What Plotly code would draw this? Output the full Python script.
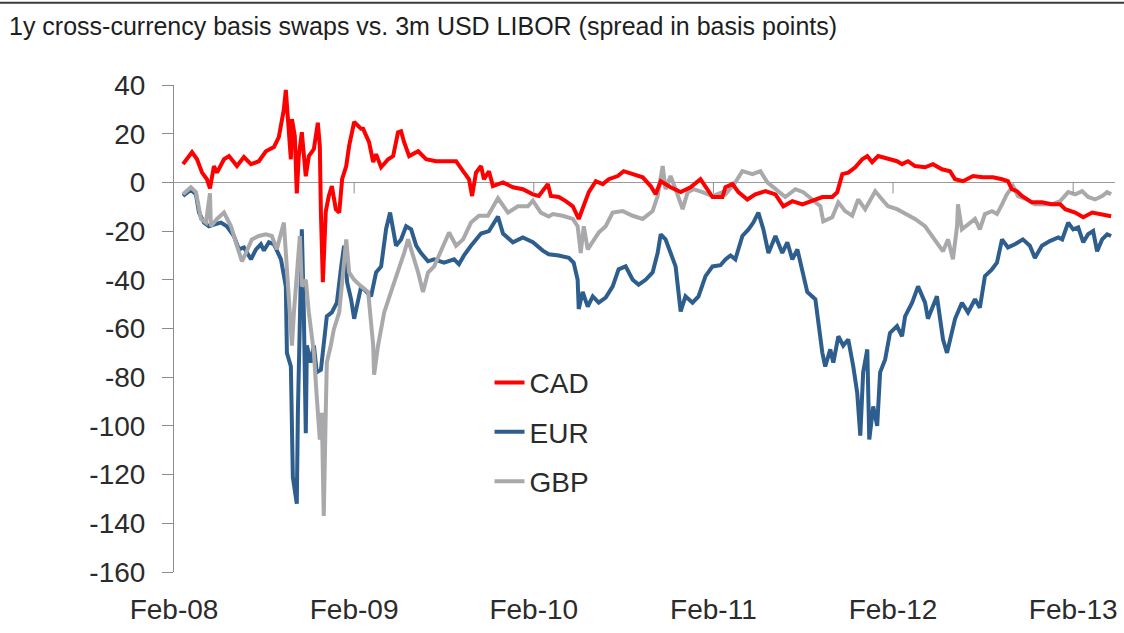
import pandas as pd
import plotly.graph_objects as go

# time stamps as decimal years, values in basis points
cad_t = [2008.135, 2008.157, 2008.185, 2008.213, 2008.241, 2008.268, 2008.285, 2008.307, 2008.324, 2008.363,
         2008.391, 2008.435, 2008.474, 2008.513, 2008.557, 2008.596, 2008.641, 2008.668, 2008.696, 2008.707,
         2008.718, 2008.735, 2008.741, 2008.757, 2008.768, 2008.779, 2008.796, 2008.818, 2008.835, 2008.863,
         2008.885, 2008.896, 2008.902, 2008.913, 2008.929, 2008.946, 2008.963, 2008.985, 2009.002, 2009.018,
         2009.041, 2009.057, 2009.085, 2009.124, 2009.135, 2009.168, 2009.191, 2009.207, 2009.235, 2009.274,
         2009.302, 2009.329, 2009.346, 2009.363, 2009.391, 2009.441, 2009.485, 2009.541, 2009.596, 2009.652,
         2009.691, 2009.724, 2009.741, 2009.763, 2009.791, 2009.807, 2009.835, 2009.857, 2009.913, 2009.968,
         2010.024, 2010.080, 2010.113, 2010.141, 2010.163, 2010.180, 2010.224, 2010.263, 2010.302, 2010.335,
         2010.363, 2010.391, 2010.430, 2010.469, 2010.502, 2010.552, 2010.585, 2010.635, 2010.691, 2010.735,
         2010.763, 2010.791, 2010.846, 2010.902, 2010.957, 2011.013, 2011.080, 2011.135, 2011.152, 2011.191,
         2011.224, 2011.274, 2011.318, 2011.374, 2011.430, 2011.474, 2011.524, 2011.580, 2011.635, 2011.691,
         2011.746, 2011.774, 2011.802, 2011.835, 2011.874, 2011.913, 2011.941, 2011.968, 2012.002, 2012.057,
         2012.107, 2012.135, 2012.168, 2012.207, 2012.263, 2012.307, 2012.357, 2012.402, 2012.430, 2012.474,
         2012.530, 2012.585, 2012.641, 2012.691, 2012.724, 2012.746, 2012.774, 2012.802, 2012.857, 2012.913,
         2012.968, 2013.013, 2013.041, 2013.096, 2013.141, 2013.191, 2013.246, 2013.296]
cad_v = [7.5, 9.5, 12.4, 9.5, 4, 1.3, -2.5, 6.7, 4, 9.5,
         10.8, 6.7, 10.4, 7.5, 8.7, 12.8, 14.5, 18.6, 30, 38,
         27, 9.5, 26, 19, -4.5, 10.8, 20.6, 2.5, 10.8, 13.7,
         24.5, 15, -12, -41, -12, -5.6, -1.5, -11, -12.4, 1.3,
         6.7, 15, 24.8, 22, 22, 16.5, 8.3, 11.6, 6.2, 9.5,
         10.8, 20.6, 21, 16.5, 10.8, 12.8, 9.5, 8.7, 8.7, 8.7,
         4.6, 1.3, -5.6, 4, 6.7, 1.3, 4.6, -1.5, 0, -2,
         -2.8, -4.9, -5.6, -2.8, -0.7, -5.6, -6, -7.7, -9.8, -15,
         -9.8, -4, 0.5, -0.7, 1.3, 2.6, 4.6, 3.4, 2.1, -1.5,
         -4.9, 0.5, -2, -4, -2, 1.3, -6, -6, -2, -0.7,
         -4, -7, -4.9, -3.6, -4.9, -9.8, -7.7, -9, -7.7, -6,
         -6, -4, 3.4, 4, 6.2, 9.5, 10.8, 8.3, 10.8, 9.5,
         8.7, 7.5, 8.7, 6.7, 6.2, 7.5, 5.4, 4.6, 1.3, 0.5,
         2.6, 2.1, 2.1, 1.3, 0.5, -2.8, -3.6, -5.6, -8.2, -8.2,
         -9, -9, -11, -12.4, -14.3, -12.4, -13, -13.9]

eur_t = [2008.135, 2008.179, 2008.207, 2008.224, 2008.252, 2008.279, 2008.307, 2008.346, 2008.379, 2008.418,
         2008.446, 2008.474, 2008.513, 2008.541, 2008.568, 2008.585, 2008.613, 2008.641, 2008.680, 2008.707,
         2008.713, 2008.735, 2008.746, 2008.768, 2008.774, 2008.785, 2008.796, 2008.807, 2008.818, 2008.824,
         2008.846, 2008.863, 2008.879, 2008.902, 2008.918, 2008.935, 2008.963, 2008.991, 2009.013, 2009.029,
         2009.046, 2009.068, 2009.085, 2009.124, 2009.179, 2009.207, 2009.235, 2009.263, 2009.285, 2009.318,
         2009.346, 2009.374, 2009.402, 2009.430, 2009.457, 2009.496, 2009.530, 2009.585, 2009.641, 2009.668,
         2009.696, 2009.735, 2009.791, 2009.835, 2009.885, 2009.913, 2009.968, 2010.024, 2010.080, 2010.135,
         2010.168, 2010.224, 2010.280, 2010.307, 2010.329, 2010.335, 2010.357, 2010.385, 2010.413, 2010.446,
         2010.485, 2010.524, 2010.557, 2010.596, 2010.635, 2010.668, 2010.707, 2010.746, 2010.774, 2010.791,
         2010.818, 2010.846, 2010.874, 2010.902, 2010.929, 2010.968, 2011.002, 2011.041, 2011.080, 2011.124,
         2011.152, 2011.180, 2011.207, 2011.246, 2011.280, 2011.307, 2011.335, 2011.363, 2011.391, 2011.430,
         2011.468, 2011.496, 2011.524, 2011.552, 2011.585, 2011.607, 2011.652, 2011.668, 2011.691, 2011.707,
         2011.735, 2011.752, 2011.780, 2011.807, 2011.835, 2011.863, 2011.885, 2011.902, 2011.918, 2011.941,
         2011.952, 2011.974, 2011.996, 2012.013, 2012.041, 2012.068, 2012.107, 2012.135, 2012.152, 2012.191,
         2012.224, 2012.263, 2012.279, 2012.329, 2012.363, 2012.385, 2012.402, 2012.430, 2012.468, 2012.502,
         2012.541, 2012.568, 2012.596, 2012.635, 2012.663, 2012.691, 2012.724, 2012.763, 2012.807, 2012.846,
         2012.874, 2012.913, 2012.957, 2013.002, 2013.024, 2013.057, 2013.085, 2013.113, 2013.141, 2013.168,
         2013.196, 2013.218, 2013.246, 2013.274, 2013.296]
eur_v = [-5.6, -3, -4.9, -12.4, -16.5, -18, -17.3, -16.5, -18, -22,
         -27.5, -26.7, -31.6, -27.5, -25.4, -28, -24.6, -25.4, -31.6, -42.7,
         -70, -75.6, -121, -132, -94.6, -53.4, -19.3, -53, -103, -67,
         -74, -67, -78, -77, -64.5, -55, -53.4, -49.4, -34.5, -26,
         -41, -48, -56, -42.7, -46.8, -37, -34.5, -19, -12.4, -26,
         -23.4, -18, -19.3, -26, -29, -32.4, -31.6, -33, -31.6, -33.6,
         -30, -26, -21, -20, -14, -21, -24.6, -22.6, -24.6, -28,
         -29.5, -30, -31, -33, -40, -52, -45, -51, -46.8, -49.4,
         -47.3, -42.7, -35.7, -34.5, -40, -42, -40, -37, -29, -21.3,
         -23.4, -29, -34.5, -53, -46.8, -49.4, -46.8, -38.5, -34.5, -34,
         -31.6, -30, -31.6, -22, -19.3, -16.5, -12.4, -19.3, -29, -22,
         -29, -24.6, -31.6, -27.5, -37, -45, -48, -57.6, -70, -75.6,
         -68.6, -74, -63.2, -67, -64.5, -75.6, -86.5, -104, -78, -68.6,
         -105.6, -92, -100, -78, -72.7, -61.8, -59, -63.2, -55, -49.4,
         -42.7, -49.4, -56, -46.8, -64.5, -70, -64.5, -56, -49.4, -53.4,
         -48, -51.5, -38.5, -35.7, -33, -23.4, -26.7, -25.4, -23.4, -26,
         -31, -26, -24.1, -22.6, -23.4, -16.5, -19.3, -18.5, -24.6, -21.3,
         -20, -28.3, -23.4, -21.3, -22]

gbp_t = [2008.135, 2008.179, 2008.207, 2008.235, 2008.263, 2008.285, 2008.290, 2008.324, 2008.363, 2008.402,
         2008.435, 2008.463, 2008.485, 2008.518, 2008.557, 2008.596, 2008.629, 2008.657, 2008.696, 2008.713,
         2008.724, 2008.741, 2008.752, 2008.768, 2008.785, 2008.796, 2008.818, 2008.835, 2008.863, 2008.879,
         2008.896, 2008.907, 2008.918, 2008.929, 2008.935, 2008.957, 2008.974, 2009.002, 2009.018, 2009.041,
         2009.057, 2009.085, 2009.124, 2009.163, 2009.191, 2009.196, 2009.218, 2009.252, 2009.290, 2009.329,
         2009.363, 2009.385, 2009.413, 2009.441, 2009.468, 2009.496, 2009.530, 2009.580, 2009.613, 2009.652,
         2009.691, 2009.735, 2009.779, 2009.829, 2009.885, 2009.941, 2009.996, 2010.052, 2010.080, 2010.124,
         2010.168, 2010.191, 2010.246, 2010.302, 2010.329, 2010.346, 2010.363, 2010.385, 2010.413, 2010.446,
         2010.485, 2010.524, 2010.580, 2010.635, 2010.691, 2010.746, 2010.774, 2010.802, 2010.818, 2010.846,
         2010.874, 2010.913, 2010.941, 2010.974, 2011.024, 2011.080, 2011.135, 2011.152, 2011.207, 2011.246,
         2011.302, 2011.346, 2011.385, 2011.430, 2011.485, 2011.541, 2011.585, 2011.635, 2011.680, 2011.696,
         2011.746, 2011.780, 2011.818, 2011.857, 2011.890, 2011.929, 2011.985, 2012.024, 2012.057, 2012.107,
         2012.152, 2012.207, 2012.263, 2012.302, 2012.335, 2012.363, 2012.391, 2012.418, 2012.441, 2012.446,
         2012.468, 2012.502, 2012.541, 2012.568, 2012.596, 2012.635, 2012.663, 2012.691, 2012.718, 2012.752,
         2012.780, 2012.829, 2012.874, 2012.918, 2012.968, 2013.013, 2013.057, 2013.096, 2013.135, 2013.168,
         2013.207, 2013.246, 2013.274, 2013.296]
gbp_v = [-4.9, -2, -4, -15, -16.5, -4.5, -18, -15, -12.4, -18,
         -26, -32.4, -29, -23.4, -22, -21.3, -22, -27.5, -16.5, -34.5,
         -52, -67, -53.4, -40, -22, -42.7, -40, -53.4, -70, -88,
         -105.6, -94.6, -137, -94.6, -74, -67, -60.4, -53.4, -40, -23.4,
         -37, -40, -42.7, -45, -67, -79, -67, -53.4, -45, -37,
         -29, -23.4, -30, -37, -45, -37, -34.5, -26, -20.6, -26,
         -23.4, -16.5, -13.7, -13.7, -6.5, -12.4, -9.8, -9.8, -7.5, -12.4,
         -14, -13, -13.7, -15, -18, -29, -18, -27.5, -24.6, -20.6,
         -18, -12.4, -11.8, -13.7, -15, -11.8, -5.6, 6.7, -2.8, 2.6,
         -2.8, -11, -4, -2.8, -4, -5.6, -4, -4.9, 0, 4.6,
         3.4, 4.6, 0, -2.8, -6, -2.8, -4, -7, -9.8, -16,
         -14.3, -8.2, -11.8, -13.7, -7, -11, -3.6, -7, -9.8, -11,
         -13, -15, -18, -22, -26, -28.3, -23.4, -31.6, -18, -9,
         -19.3, -17.3, -15, -19.3, -13, -11.8, -13, -9, -4.9, -1.5,
         -5.6, -7, -9, -9, -9, -7.7, -4, -4.9, -3.6, -6,
         -7, -5.6, -4, -4.9]

y_ticks = [40, 20, 0, -20, -40, -60, -80, -100, -120, -140, -160]
y_labels = ['40', '20', '0', '-20', '-40', '-60', '-80', '-100', '-120', '-140', '-160']
x_ticks = ['2008-02-01', '2009-02-01', '2010-02-01', '2011-02-01', '2012-02-01', '2013-02-01']
x_labels = ['Feb-08', 'Feb-09', 'Feb-10', 'Feb-11', 'Feb-12', 'Feb-13']


def to_dates(ts):
    out = []
    for t in ts:
        y = int(t)
        out.append(pd.Timestamp(y, 1, 1) + pd.Timedelta(days=(t - y) * 365.25))
    return out


FONT = 'Liberation Sans'
fig = go.Figure()
series = [('EUR', eur_t, eur_v, '#2D5E8E', 2), ('GBP', gbp_t, gbp_v, '#A9A9AB', 3), ('CAD', cad_t, cad_v, '#FF0000', 1)]
for name, t, v, col, rank in series:
    fig.add_trace(go.Scatter(x=to_dates(t), y=v, mode='lines', name=name, legendgroup=name, legendrank=rank,
                             line=dict(color=col, width=4)))

# small year ticks hanging off the zero line
shapes = [dict(type='line', xref='x', yref='y', x0=d, x1=d, ysizemode='pixel', yanchor=0, y0=0, y1=-11,
               line=dict(color='#8c8c8c', width=1)) for d in x_ticks[1:]]
# rule across the top of the page
shapes.append(dict(type='line', xref='paper', yref='paper', x0=-0.2, x1=1.1, y0=1.169, y1=1.169,
                   line=dict(color='#3a3a3a', width=2)))
fig.update_layout(
    width=1124, height=633, margin=dict(l=174, r=9, t=85, b=61),
    paper_bgcolor='white', plot_bgcolor='white',
    font=dict(family=FONT, size=28, color='#2b2b2b'),
    title=dict(text='1y cross-currency basis swaps vs. 3m USD LIBOR (spread in basis points)',
               font=dict(family=FONT, size=25, color='#1e1e1e'), xref='container', x=0.0, xanchor='left',
               yref='container', y=0.958, yanchor='middle', pad=dict(l=9)),
    xaxis=dict(type='date', range=['2008-02-01', '2013-04-27'], tickvals=x_ticks, ticktext=x_labels,
               showgrid=False, showline=False, zeroline=False, ticks='', ticklabelstandoff=18,
               automargin=False),
    yaxis=dict(range=[-160, 40], tickvals=y_ticks, ticktext=y_labels, showgrid=False,
               showline=True, linecolor='#8c8c8c', linewidth=1, ticks='outside', ticklen=11,
               tickcolor='#8c8c8c', zeroline=True, zerolinecolor='#9a9a9a', zerolinewidth=1,
               ticklabelstandoff=11, automargin=False),
    legend=dict(x=0.3353, y=0.44, xanchor='left', yanchor='top', bgcolor='rgba(0,0,0,0)',
                font=dict(family=FONT, size=28, color='#2b2b2b'), tracegroupgap=10),
    shapes=shapes, showlegend=True,
)
# page body has a default 8px margin; drop it so the figure sits at the window corner
fig.write_html('out.html', config={'displayModeBar': False},
               post_script="document.body.style.margin='0';")
